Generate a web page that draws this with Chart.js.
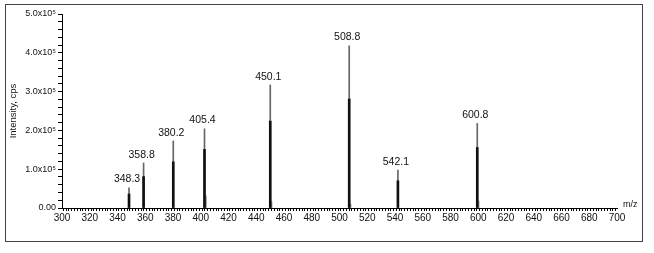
<!DOCTYPE html>
<html>
<head>
<meta charset="utf-8">
<script src="https://cdn.jsdelivr.net/npm/chart.js@4/dist/chart.umd.min.js"></script>
<style>
  html, body { margin:0; padding:0; background:#fff; }
  #wrap { width:654px; height:253px; position:relative; }
</style>
</head>
<body>
<div id="wrap"><canvas id="msChart"></canvas></div>
<script>
// peaks
const peakMz     = [348.3, 358.8, 380.2, 402.7, 450.1, 507.0, 542.1, 599.3];
const peakLabels = ["348.3","358.8","380.2","405.4","450.1","508.8","542.1","600.8"];
const peakTop    = [52000, 116000, 173000, 204000, 317000, 418000, 98000, 218000];
const peakBody   = [36000, 81000, 119000, 151000, 224000, 281000, 70000, 156000];
// small isotope stubs at the base
const isoMz  = [403.4, 450.7, 507.6, 599.9];
const isoInt = [31000, 16000, 10000, 18000];
// axis ticks
const xMajorStep = 20;
const yMajorStep = 100000;
const yTickText = {0:"0.00",100000:"1.0x10\u2075",200000:"2.0x10\u2075",300000:"3.0x10\u2075",400000:"4.0x10\u2075",500000:"5.0x10\u2075"};

const pts = (xs, ys) => xs.map((x, i) => ({x: x, y: ys[i]}));
const FONT = '"Liberation Sans", Arial, sans-serif';

const peakText = {
  id: 'peakText',
  beforeDraw(chart) {
    const c = chart.ctx;
    c.save();
    c.strokeStyle = '#444';
    c.lineWidth = 1;
    c.strokeRect(5.5, 4.5, 637, 237);
    c.restore();
  },
  afterDraw(chart) {
    const c = chart.ctx, xs = chart.scales.x, ys = chart.scales.y;
    c.save();
    c.fillStyle = '#111';
    c.font = '10.5px ' + FONT;
    c.textAlign = 'center';
    c.textBaseline = 'bottom';
    peakLabels.forEach((t, i) => {
      c.fillText(t, xs.getPixelForValue(peakMz[i]) - 2, ys.getPixelForValue(peakTop[i]) - 3);
    });
    c.textAlign = 'left';
    c.font = '9px ' + FONT;
    c.fillText('m/z', chart.chartArea.right + 6, chart.chartArea.bottom + 1);
    c.restore();
  }
};

new Chart(document.getElementById('msChart'), {
  type: 'bar',
  data: {
    datasets: [
      { data: pts(peakMz, peakBody), backgroundColor: '#111', barThickness: 2, grouped: false },
      { data: pts(peakMz, peakTop), backgroundColor: '#666', barThickness: 1, grouped: false },
      { data: pts(isoMz, isoInt), backgroundColor: '#999', barThickness: 2, grouped: false }
    ]
  },
  options: {
    responsive: true,
    maintainAspectRatio: false,
    animation: false,
    layout: { padding: { top: 14, right: 37, bottom: 27, left: 0 } },
    plugins: { legend: { display: false }, tooltip: { enabled: false } },
    scales: {
      x: {
        type: 'linear', min: 300, max: 700, offset: false,
        afterFit: s => { s.height = 18; },
        border: { color: '#000', width: 1 },
        grid: { drawOnChartArea: false, tickLength: 3, color: '#000' },
        afterBuildTicks: s => {
          s.ticks = [];
          for (let v = 300; v <= 700; v += 2) s.ticks.push({ value: v });
        },
        ticks: {
          autoSkip: false, maxRotation: 0, padding: 1, color: '#111',
          font: { family: FONT, size: 10 },
          callback: v => (v % xMajorStep === 0 ? String(v) : '')
        }
      },
      y: {
        min: 0, max: 500000,
        afterFit: s => { s.width = 62; },
        border: { color: '#000', width: 1 },
        grid: { drawOnChartArea: false, tickLength: 4, color: '#000' },
        afterBuildTicks: s => {
          s.ticks = [];
          for (let v = 0; v <= 500000; v += 20000) s.ticks.push({ value: v });
        },
        title: {
          display: true, text: 'Intensity, cps', color: '#111', padding: { top: 8, bottom: 0 },
          font: { family: FONT, size: 9.5 }
        },
        ticks: {
          autoSkip: false, padding: 2, color: '#111',
          font: { family: FONT, size: 9 },
          callback: v => (v % yMajorStep === 0 ? yTickText[v] : '')
        }
      }
    }
  },
  plugins: [peakText]
});
</script>
</body>
</html>
